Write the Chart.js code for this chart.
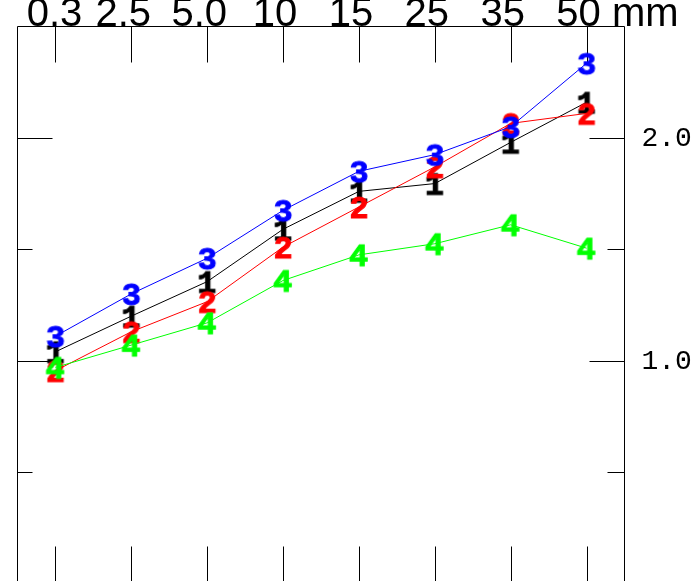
<!DOCTYPE html>
<html>
<head>
<meta charset="utf-8">
<script src="https://cdn.jsdelivr.net/npm/chart.js@4.4.1/dist/chart.umd.min.js"></script>
<style>
  html, body { margin: 0; padding: 0; background: #fff; overflow: hidden; width: 695px; height: 581px; }
  #wrap { width: 695px; height: 600px; }
</style>
</head>
<body>
<div id="wrap"><canvas id="c" width="695" height="600"></canvas></div>
<script>
// Sieve sizes along the top axis
const categories = ['0.3', '2.5', '5.0', '10', '15', '25', '35', '50'];
const unitLabel = 'mm';

// Curves 1..4
const series1 = [1.04, 1.20, 1.355, 1.59, 1.76, 1.795, 1.98, 2.16];
const series2 = [0.955, 1.13, 1.265, 1.51, 1.69, 1.87, 2.065, 2.11];
const series3 = [1.11, 1.30, 1.46, 1.675, 1.85, 1.925, 2.05, 2.335];
const series4 = [0.97, 1.07, 1.17, 1.36, 1.475, 1.525, 1.61, 1.505];

const seriesNames = ['1', '2', '3', '4'];
const seriesColors = ['#000000', '#ff0000', '#0000ff', '#00ff00'];

// Y axis ticks
const yMin = 0, yMax = 2.5;
const yMinorTicks = [0.5, 1.5];
const yMajorTicks = [1.0, 2.0];
const yMajorLabels = ['1.0', '2.0'];

// Digit glyph used as the point marker of each curve, centred on its ink box
function glyph(ch, color) {
  const cv = document.createElement('canvas');
  cv.width = 40; cv.height = 40;
  const g = cv.getContext('2d');
  g.font = 'bold 32px "Liberation Mono", "DejaVu Sans Mono", monospace';
  g.fillStyle = color;
  g.strokeStyle = color;
  g.lineWidth = 1;
  g.textAlign = 'left';
  g.textBaseline = 'alphabetic';
  const m = g.measureText(ch);
  const w = m.actualBoundingBoxRight + m.actualBoundingBoxLeft;
  const h = m.actualBoundingBoxAscent + m.actualBoundingBoxDescent;
  const x = 20 - w / 2 + m.actualBoundingBoxLeft;
  const y = 20 + h / 2 - m.actualBoundingBoxDescent;
  g.fillText(ch, x, y);
  g.strokeText(ch, x, y);
  return cv;
}

const allSeries = [series1, series2, series3, series4];
const datasets = allSeries.map((vals, i) => ({
  label: seriesNames[i],
  data: vals,
  borderColor: seriesColors[i],
  backgroundColor: seriesColors[i],
  borderWidth: 1,
  tension: 0,
  fill: false,
  pointStyle: glyph(seriesNames[i], seriesColors[i]),
  pointRadius: 10,
  pointHoverRadius: 10,
  clip: false,
  order: allSeries.length - 1 - i
}));

// Frame, inward ticks and axis labels
const framePlugin = {
  id: 'frame',
  beforeDatasetsDraw(chart) {
    const { ctx, chartArea: a, scales } = chart;
    const xs = scales.x, ys = scales.y;
    ctx.save();
    ctx.strokeStyle = '#000';
    ctx.lineWidth = 1;
    ctx.beginPath();
    ctx.rect(a.left, a.top, a.right - a.left, a.bottom - a.top);
    ctx.stroke();

    ctx.beginPath();
    categories.forEach((c, i) => {
      const x = Math.round(xs.getPixelForValue(i)) + 0.5;
      ctx.moveTo(x, a.top); ctx.lineTo(x, a.top + 36);
      ctx.moveTo(x, a.bottom); ctx.lineTo(x, a.bottom - 37);
    });
    yMajorTicks.forEach(v => {
      const y = Math.round(ys.getPixelForValue(v)) + 0.5;
      ctx.moveTo(a.left, y); ctx.lineTo(a.left + 35, y);
      ctx.moveTo(a.right, y); ctx.lineTo(a.right - 35, y);
    });
    yMinorTicks.forEach(v => {
      const y = Math.round(ys.getPixelForValue(v)) + 0.5;
      ctx.moveTo(a.left, y); ctx.lineTo(a.left + 15, y);
      ctx.moveTo(a.right, y); ctx.lineTo(a.right - 17, y);
    });
    ctx.stroke();

    // top category labels
    ctx.fillStyle = '#000';
    ctx.font = '40px "Liberation Sans", Arial, sans-serif';
    ctx.textBaseline = 'alphabetic';
    ctx.textAlign = 'center';
    let lastRight = 0;
    categories.forEach((c, i) => {
      const x = xs.getPixelForValue(i) - (i === 0 ? 1 : 8);
      ctx.fillText(c, x, a.top - 1);
      lastRight = x + ctx.measureText(c).width / 2;
    });
    ctx.textAlign = 'left';
    ctx.fillText(' ' + unitLabel, lastRight, a.top - 1);

    // right value labels
    ctx.font = '28px "Liberation Mono", "Courier New", monospace';
    ctx.textBaseline = 'middle';
    yMajorTicks.forEach((v, i) => {
      ctx.fillText(yMajorLabels[i], a.right + 17, ys.getPixelForValue(v) + 1);
    });
    ctx.restore();
  }
};

new Chart(document.getElementById('c'), {
  type: 'line',
  data: { labels: categories, datasets },
  options: {
    responsive: false,
    animation: false,
    devicePixelRatio: 1,
    layout: { padding: { left: 17.5, right: 70.5, top: 26.5, bottom: 16.5 } },
    plugins: { legend: { display: false }, tooltip: { enabled: false } },
    events: [],
    scales: {
      x: { type: 'category', offset: true, display: false },
      y: { type: 'linear', min: yMin, max: yMax, display: false }
    }
  },
  plugins: [framePlugin]
});
</script>
</body>
</html>
